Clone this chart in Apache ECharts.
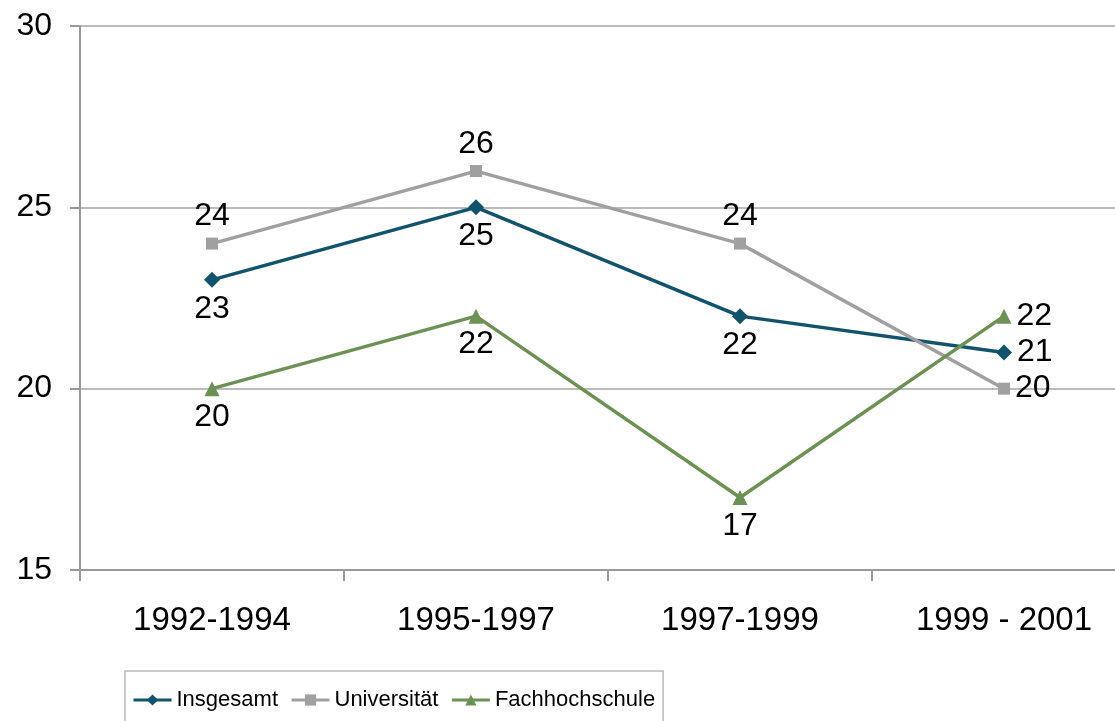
<!DOCTYPE html>
<html>
<head>
<meta charset="utf-8">
<script src="https://cdn.jsdelivr.net/npm/echarts@6/dist/echarts.min.js"></script>
<style>
  html, body { margin: 0; padding: 0; background: #fff; }
  #chart { width: 1115px; height: 721px; }
</style>
</head>
<body>
<div id="chart"></div>
<script>
// Werte aus dem Diagramm
const categories = ['1992-1994', '1995-1997', '1997-1999', '1999 - 2001'];
const insgesamt = [23, 25, 22, 21];
const universitaet = [24, 26, 24, 20];
const fachhochschule = [20, 22, 17, 22];

// Beschriftungspositionen je Punkt
const posInsgesamt = ['bottom', 'bottom', 'bottom', 'right'];
const posUni = ['top', 'top', 'top', 'right'];
const posFH = ['bottom', 'bottom', 'bottom', 'right'];

const font = 'Liberation Sans, Arial, sans-serif';

function withLabels(values, positions) {
  return values.map((v, i) => ({
    value: v,
    label: { position: positions[i] }
  }));
}

function makeSeries(name, values, positions, color, symbol, size) {
  return {
    name: name,
    type: 'line',
    data: withLabels(values, positions),
    symbol: symbol,
    symbolSize: size,
    lineStyle: { color: color, width: 3.5 },
    itemStyle: { color: color },
    label: {
      show: true,
      fontFamily: font,
      fontSize: 32,
      color: '#000',
      distance: 5
    },
    animation: false
  };
}

const chart = echarts.init(document.getElementById('chart'));
chart.setOption({
  animation: false,
  grid: { left: 80, top: 26, right: -21, bottom: 151, outerBoundsMode: 'none', containLabel: false },
  legend: {
    left: 125,
    top: 671,
    itemWidth: 38,
    itemHeight: 14,
    itemGap: 12,
    padding: [18, 8, 30, 7],
    borderColor: '#bbb',
    borderWidth: 1.5,
    lineStyle: { width: 3 },
    textStyle: { fontFamily: font, fontSize: 22, color: '#000' },
    data: ['Insgesamt', 'Universität', 'Fachhochschule']
  },
  xAxis: {
    type: 'category',
    data: categories,
    boundaryGap: true,
    axisLine: { lineStyle: { color: '#999', width: 2 } },
    axisTick: { show: true, length: 11, lineStyle: { color: '#999', width: 2 } },
    axisLabel: { fontFamily: font, fontSize: 33, color: '#000', margin: 34 }
  },
  yAxis: {
    type: 'value',
    min: 15,
    max: 30,
    interval: 5,
    axisLine: { show: true, lineStyle: { color: '#999', width: 2 } },
    axisTick: { show: true, length: 10, lineStyle: { color: '#999', width: 2 } },
    axisLabel: { fontFamily: font, fontSize: 32, color: '#000', margin: 28 },
    splitLine: { lineStyle: { color: '#bbb', width: 2 } }
  },
  series: [
    makeSeries('Insgesamt', insgesamt, posInsgesamt, '#11536d', 'diamond', 16),
    makeSeries('Universität', universitaet, posUni, '#a0a0a0', 'rect', 12),
    makeSeries('Fachhochschule', fachhochschule, posFH, '#6d9155', 'triangle', 15)
  ]
});
</script>
</body>
</html>
